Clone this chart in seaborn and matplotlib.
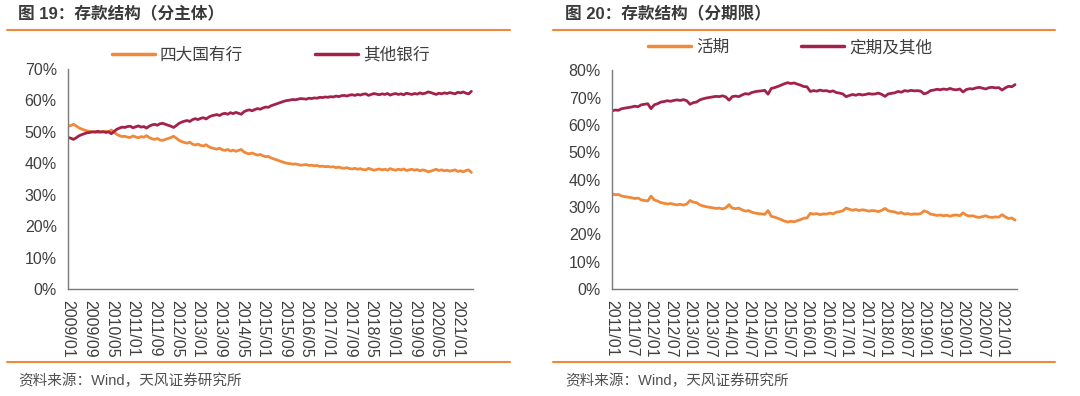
import numpy as np
import pandas as pd
import matplotlib
matplotlib.use("Agg")
import matplotlib.pyplot as plt
import seaborn as sns
from matplotlib.lines import Line2D
from matplotlib.ticker import FuncFormatter

# ---------------- data ----------------
# Figure 19: monthly, 2009/01 - 2021/06 (share of deposits, %)
left_big4 = [
    51.8, 52.0, 52.4, 51.9, 51.3, 50.9, 50.6, 50.3, 50.2, 50.0, 50.1, 49.8,
    50.1, 49.9, 50.2, 50.0, 50.6, 49.9, 49.2, 48.8, 48.5, 48.6, 48.3, 48.2,
    48.7, 48.4, 48.1, 48.5, 48.3, 48.8, 48.2, 47.8, 47.6, 47.9, 47.4, 47.3,
    47.6, 47.9, 48.2, 48.6, 48.0, 47.3, 46.9, 46.6, 46.4, 46.7, 46.1, 45.8,
    46.1, 45.7, 45.5, 45.9, 45.3, 44.9, 44.7, 44.5, 44.8, 44.3, 44.1, 44.4,
    43.9, 44.2, 43.8, 44.1, 44.4, 43.6, 43.2, 43.0, 43.3, 42.9, 42.6, 42.8,
    42.4, 42.1, 42.2, 41.7, 41.4, 41.1, 40.8, 40.5, 40.2, 40.0, 39.9, 39.7,
    39.8, 39.6, 39.4, 39.5, 39.6, 39.3, 39.4, 39.2, 39.3, 39.0, 39.1, 38.9,
    39.0, 38.8, 38.9, 38.6, 38.8, 38.5, 38.4, 38.6, 38.3, 38.2, 38.4, 38.1,
    38.3, 38.0, 37.9, 38.4, 38.1, 37.8, 38.0, 38.2, 37.9, 38.1, 37.8, 38.3,
    38.0, 37.8, 38.1, 37.9, 38.2, 37.7, 37.9, 38.1, 37.8, 38.0, 37.6, 37.9,
    37.7, 37.3, 37.5, 37.8, 38.1, 37.7, 37.9, 37.6, 37.8, 37.5, 37.7, 37.9,
    37.4, 37.6, 37.3, 37.7, 37.9, 37.1,
]
left_other = [
    48.2, 48.0, 47.6, 48.1, 48.7, 49.1, 49.4, 49.7, 49.8, 50.0, 49.9, 50.2,
    49.9, 50.1, 49.8, 50.0, 49.4, 50.1, 50.8, 51.2, 51.5, 51.4, 51.7, 51.8,
    51.3, 51.6, 51.9, 51.5, 51.7, 51.2, 51.8, 52.2, 52.4, 52.1, 52.6, 52.7,
    52.4, 52.1, 51.8, 51.4, 52.0, 52.7, 53.1, 53.4, 53.6, 53.3, 53.9, 54.2,
    53.9, 54.3, 54.5, 54.1, 54.7, 55.1, 55.3, 55.5, 55.2, 55.7, 55.9, 55.6,
    56.1, 55.8, 56.2, 55.9, 55.6, 56.4, 56.8, 57.0, 56.7, 57.1, 57.4, 57.2,
    57.6, 57.9, 57.8, 58.3, 58.6, 58.9, 59.2, 59.5, 59.8, 60.0, 60.1, 60.3,
    60.2, 60.4, 60.6, 60.5, 60.4, 60.7, 60.6, 60.8, 60.7, 61.0, 60.9, 61.1,
    61.0, 61.2, 61.1, 61.4, 61.2, 61.5, 61.6, 61.4, 61.7, 61.8, 61.6, 61.9,
    61.7, 62.0, 62.1, 61.6, 61.9, 62.2, 62.0, 61.8, 62.1, 61.9, 62.2, 61.7,
    62.0, 62.2, 61.9, 62.1, 61.8, 62.3, 62.1, 61.9, 62.2, 62.0, 62.4, 62.1,
    62.3, 62.7, 62.5, 62.2, 61.9, 62.3, 62.1, 62.4, 62.2, 62.5, 62.3, 62.1,
    62.6, 62.4, 62.7, 62.3, 62.1, 62.9,
]
left_tick_labels = [
    "2009/01", "2009/09", "2010/05", "2011/01", "2011/09", "2012/05",
    "2013/01", "2013/09", "2014/05", "2015/01", "2015/09", "2016/05",
    "2017/01", "2017/09", "2018/05", "2019/01", "2019/09", "2020/05",
    "2021/01",
]
left_names = ["四大国有行", "其他银行"]

# Figure 20: monthly, 2011/01 - 2021/05 (share of deposits, %)
right_demand = [
    34.8, 34.5, 34.6, 34.0, 33.8, 33.6, 33.4, 33.1, 33.3, 32.6, 32.4, 32.2,
    34.0, 32.6, 32.2, 31.6, 31.4, 31.1, 31.3, 31.0, 30.8, 31.0, 30.7, 31.1,
    32.4, 31.8, 31.6, 30.8, 30.4, 30.1, 29.9, 29.7, 29.5, 29.6, 29.3, 29.7,
    30.9, 29.6, 29.4, 29.6, 29.0, 28.5, 28.7, 28.1, 27.8, 27.6, 27.5, 27.3,
    28.7, 26.6, 26.3, 25.9, 25.4, 24.9, 24.5, 24.8, 24.6, 25.0, 25.4, 25.9,
    26.0, 27.7, 27.4, 27.6, 27.2, 27.5, 27.4, 27.8, 27.5, 28.1, 28.3, 28.6,
    29.6, 29.2, 28.8, 29.1, 28.7, 29.0, 28.8, 28.5, 28.7, 28.6, 28.3, 28.8,
    29.5, 28.6, 28.4, 28.2, 27.7, 28.0, 27.4, 27.6, 27.3, 27.5, 27.4, 27.6,
    28.6, 28.2, 27.4, 27.2, 26.9, 27.1, 26.8, 27.0, 26.6, 27.0, 27.1, 26.8,
    27.9, 27.0, 26.7, 26.8, 26.4, 26.2, 26.5, 26.8, 26.3, 26.2, 26.4, 26.3,
    27.2, 26.4, 25.8, 26.0, 25.2,
]
right_time = [
    65.2, 65.5, 65.4, 66.0, 66.2, 66.4, 66.6, 66.9, 66.7, 67.4, 67.6, 67.8,
    66.0, 67.4, 67.8, 68.4, 68.6, 68.9, 68.7, 69.0, 69.2, 69.0, 69.3, 68.9,
    67.6, 68.2, 68.4, 69.2, 69.6, 69.9, 70.1, 70.3, 70.5, 70.4, 70.7, 70.3,
    69.1, 70.4, 70.6, 70.4, 71.0, 71.5, 71.3, 71.9, 72.2, 72.4, 72.5, 72.7,
    71.3, 73.4, 73.7, 74.1, 74.6, 75.1, 75.5, 75.2, 75.4, 75.0, 74.6, 74.1,
    74.0, 72.3, 72.6, 72.4, 72.8, 72.5, 72.6, 72.2, 72.5, 71.9, 71.7, 71.4,
    70.4, 70.8, 71.2, 70.9, 71.3, 71.0, 71.2, 71.5, 71.3, 71.4, 71.7, 71.2,
    70.5, 71.4, 71.6, 71.8, 72.3, 72.0, 72.6, 72.4, 72.7, 72.5, 72.6, 72.4,
    71.4, 71.8, 72.6, 72.8, 73.1, 72.9, 73.2, 73.0, 73.4, 73.0, 72.9, 73.2,
    72.1, 73.0, 73.3, 73.2, 73.6, 73.8, 73.5, 73.2, 73.7, 73.8, 73.6, 73.7,
    72.8, 73.6, 74.2, 74.0, 74.8,
]
right_tick_labels = [
    "2011/01", "2011/07", "2012/01", "2012/07", "2013/01", "2013/07",
    "2014/01", "2014/07", "2015/01", "2015/07", "2016/01", "2016/07",
    "2017/01", "2017/07", "2018/01", "2018/07", "2019/01", "2019/07",
    "2020/01", "2020/07", "2021/01",
]
right_names = ["活期", "定期及其他"]

titles = ["图 19：存款结构（分主体）", "图 20：存款结构（分期限）"]
source_text = "资料来源：Wind，天风证券研究所"

# ---------------- style ----------------
ORANGE = "#F0893A"
CRIMSON = "#A3224A"
SEP = "#EE8A3C"
TXT = "#3F3F3F"
AX = "#7A7A7A"

sns.set_theme(style="white")
plt.rcParams["font.family"] = ["Liberation Sans", "Noto Sans CJK SC", "DejaVu Sans"]
plt.rcParams["axes.unicode_minus"] = False

W, H = 1080, 396
fig = plt.figure(figsize=(W / 100, H / 100), dpi=100)


def fx(px):
    return px / W


def fy(py):
    return 1 - py / H


def make_panel(rect, s1, s2, names, tick_labels, step, ymax, legend_x, legend_y):
    ax = fig.add_axes(rect)
    n = len(s1)
    df = pd.DataFrame({
        "idx": np.concatenate([np.arange(n), np.arange(n)]),
        "val": np.concatenate([s1, s2]),
        "series": [names[0]] * n + [names[1]] * n,
    })
    sns.lineplot(data=df, x="idx", y="val", hue="series",
                 palette={names[0]: ORANGE, names[1]: CRIMSON},
                 linewidth=2.0, ax=ax, legend=True)
    ax.set_xlim(0, n - 1 + 0.6)
    ax.set_ylim(0, ymax)
    ax.set_yticks(np.arange(0, ymax + 1, 10))
    ax.yaxis.set_major_formatter(FuncFormatter(lambda v, p: f"{v:.0f}%"))
    ax.set_xticks(np.arange(0, n, step)[:len(tick_labels)])
    ax.set_xticklabels(tick_labels, rotation=-90, ha="center", va="top")
    ax.set_xlabel("")
    ax.set_ylabel("")
    for s in ["top", "right"]:
        ax.spines[s].set_visible(False)
    for s in ["left", "bottom"]:
        ax.spines[s].set_color(AX)
        ax.spines[s].set_linewidth(1.0)
    ax.tick_params(axis="both", which="both", direction="out", length=3.6,
                   width=1.0, color=AX, labelcolor=TXT, labelsize=11.5)
    ax.tick_params(axis="y", pad=4.5)
    ax.tick_params(axis="x", pad=4.0)
    handles, labels = ax.get_legend_handles_labels()
    leg = ax.legend(handles, labels, loc="center", bbox_to_anchor=(legend_x, legend_y),
                    ncol=2, frameon=False, fontsize=12, handlelength=2.6,
                    handletextpad=0.3, columnspacing=4.3)
    for t in leg.get_texts():
        t.set_color(TXT)
    for h in leg.legend_handles:
        h.set_linewidth(2.5)
    return ax


# left panel
lrect = [fx(68), fy(289), fx(473) - fx(68), fy(69) - fy(289)]
make_panel(lrect, left_big4, left_other, left_names, left_tick_labels, 8, 70, 0.5, 1.064)

# right panel
rrect = [fx(612), fy(289), fx(1017) - fx(612), fy(70.4) - fy(289)]
make_panel(rrect, right_demand, right_time, right_names, right_tick_labels, 6, 80, 0.44, 1.105)

# titles, separators, sources
for x0, x1, tx, title in [(7, 510, 18, titles[0]), (553, 1055, 565, titles[1])]:
    fig.text(fx(tx), fy(14), title, fontsize=12, fontweight="bold", color="#3A3A3A",
             ha="left", va="center")
    fig.add_artist(Line2D([fx(x0), fx(x1)], [fy(30), fy(30)], color=SEP, lw=1.5,
                          transform=fig.transFigure))
    fig.add_artist(Line2D([fx(x0), fx(x1)], [fy(362), fy(362)], color=SEP, lw=1.5,
                          transform=fig.transFigure))
    fig.text(fx(tx), fy(381), source_text, fontsize=10.5, color="#505050",
             ha="left", va="center")

fig.savefig("out.png", dpi=100, facecolor="white")
